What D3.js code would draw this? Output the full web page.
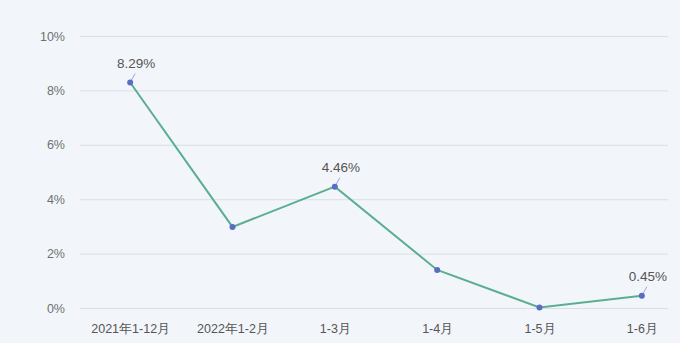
<!DOCTYPE html>
<html>
<head>
<meta charset="utf-8">
<script src="https://cdn.jsdelivr.net/npm/d3@7"></script>
<style>
  html, body { margin: 0; padding: 0; background: #f2f6fa; }
  svg { display: block; font-family: "Liberation Sans", Arial, "Noto Sans CJK SC", sans-serif; }
</style>
</head>
<body>
<script>
// données
const categories = ['2021年1-12月', '2022年1-2月', '1-3月', '1-4月', '1-5月', '1-6月'];
const values = [8.29, 2.98, 4.46, 1.40, 0.02, 0.45];
const labelled = [0, 2, 5]; // points qui portent une étiquette
const yTicks = [0, 2, 4, 6, 8, 10];

const width = 680, height = 343;

const svg = d3.select('body').append('svg')
    .attr('width', width)
    .attr('height', height);

svg.append('rect')
    .attr('width', width)
    .attr('height', height)
    .attr('fill', '#f2f6fa');

const x = d3.scalePoint()
    .domain(categories)
    .range([79, 693])
    .padding(0.5);

const y = d3.scaleLinear()
    .domain([0, 10])
    .range([308, 36]);

// grille + axe Y
const yAxis = svg.append('g')
    .attr('transform', 'translate(80,0)')
    .call(d3.axisLeft(y).tickValues(yTicks).tickFormat(d => d + '%').tickSize(-588).tickPadding(15));
yAxis.select('.domain').remove();
yAxis.selectAll('line').attr('stroke', '#d9dfe7');
yAxis.selectAll('text')
    .attr('fill', '#707070')
    .style('font-size', '12.5px');

// axe X
const xAxis = svg.append('g')
    .attr('transform', 'translate(0,319)')
    .call(d3.axisBottom(x).tickSize(0).tickPadding(5));
xAxis.select('.domain').remove();
xAxis.selectAll('text')
    .attr('fill', '#555')
    .style('font-size', '12.5px');

// ligne
const line = d3.line()
    .x((d, i) => x(categories[i]))
    .y(d => y(d));

svg.append('path')
    .datum(values)
    .attr('fill', 'none')
    .attr('stroke', '#5cae90')
    .attr('stroke-width', 2)
    .attr('d', line);

// petits traits vers les étiquettes
svg.selectAll('.leader')
    .data(labelled)
    .join('line')
    .attr('x1', i => x(categories[i]))
    .attr('y1', i => y(values[i]))
    .attr('x2', i => x(categories[i]) + 5)
    .attr('y2', i => y(values[i]) - 9)
    .attr('stroke', '#9aa6d8')
    .attr('stroke-width', 1);

svg.selectAll('.pt')
    .data(values)
    .join('circle')
    .attr('cx', (d, i) => x(categories[i]))
    .attr('cy', d => y(d))
    .attr('r', 3)
    .attr('fill', '#5b6cc4');

svg.selectAll('.lbl')
    .data(labelled)
    .join('text')
    .attr('x', i => x(categories[i]) + 6)
    .attr('y', i => y(values[i]) - 15)
    .attr('text-anchor', 'middle')
    .attr('fill', '#555')
    .style('font-size', '13.5px')
    .text(i => values[i].toFixed(2) + '%');
</script>
</body>
</html>
